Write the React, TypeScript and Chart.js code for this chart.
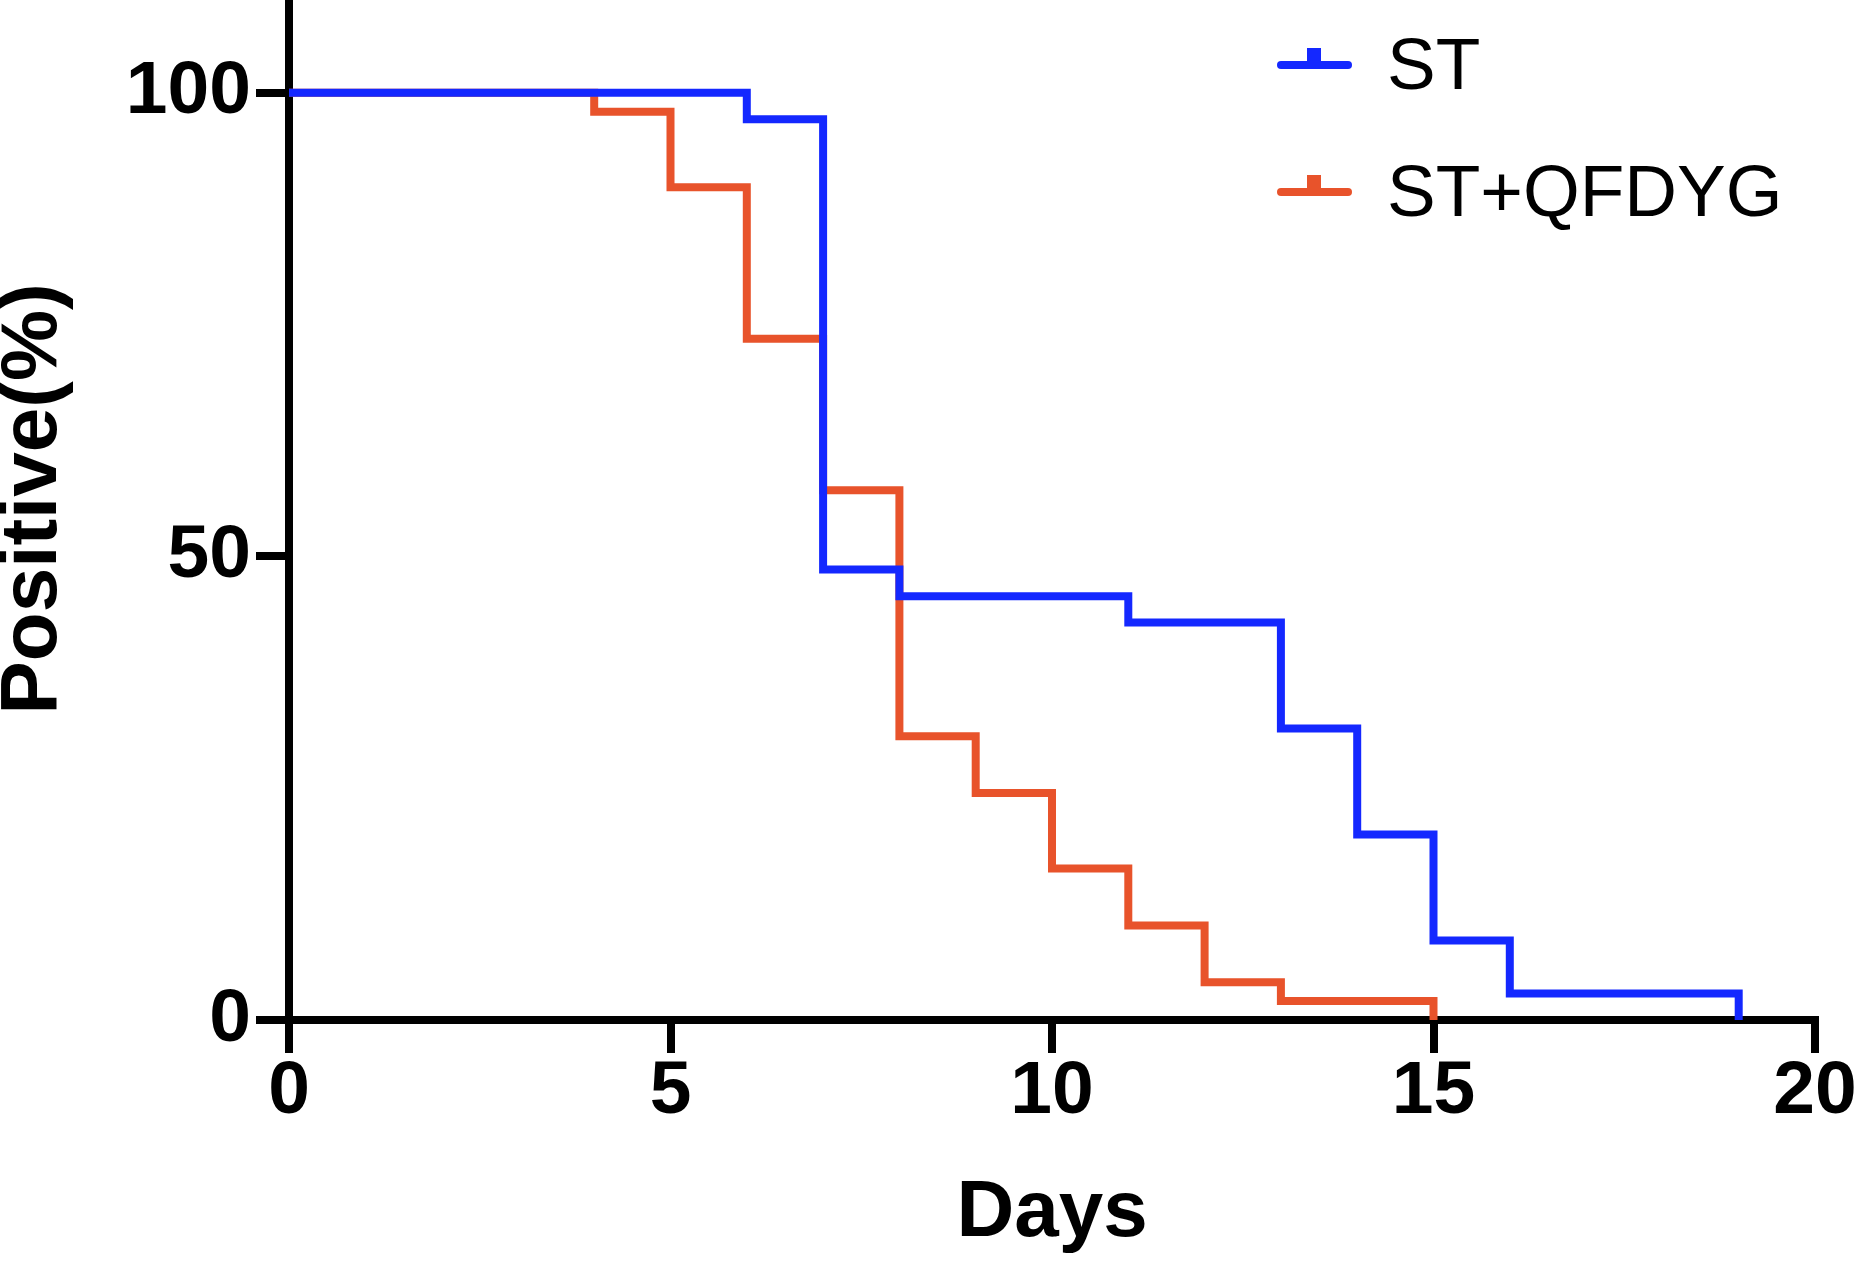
import React, { useEffect, useRef } from "react";
import { Chart, registerables } from "chart.js";

Chart.register(...registerables);

// days at which a step happens, and the % still positive from that day on
const stDays = [0, 6, 7, 8, 11, 13, 14, 15, 16, 19];
const stValues = [100, 97.14, 48.57, 45.71, 42.86, 31.43, 20.0, 8.57, 2.86, 0];
const qfdygDays = [0, 4, 5, 6, 7, 8, 9, 10, 11, 12, 13, 15];
const qfdygValues = [100, 97.96, 89.8, 73.47, 57.14, 30.61, 24.49, 16.33, 10.2, 4.08, 2.04, 0];

const seriesNames = ["ST", "ST+QFDYG"];
const seriesColors = ["#1428ff", "#e8532b"];

const xTicks = [0, 5, 10, 15, 20];
const yTicks = [0, 50, 100];

const SANS = "'Liberation Sans', Arial, sans-serif";
const TICK_FONT = { family: SANS, size: 75, weight: "bold" as const, lineHeight: 1 };

// legend drawn by hand: a line with a little censor tick, then the label
const legendPlugin = {
  id: "stepLegend",
  afterDraw(chart: Chart) {
    const { ctx } = chart;
    ctx.save();
    chart.data.datasets.forEach((ds, i) => {
      const y = 65 + i * 127;
      ctx.strokeStyle = ds.borderColor as string;
      ctx.fillStyle = ds.borderColor as string;
      ctx.lineWidth = 8;
      ctx.lineCap = "round";
      ctx.beginPath();
      ctx.moveTo(1281, y);
      ctx.lineTo(1348, y);
      ctx.stroke();
      ctx.fillRect(1307, y - 17, 14, 17);
      ctx.fillStyle = "#000";
      ctx.font = `73px ${SANS}`;
      ctx.textBaseline = "alphabetic";
      ctx.textAlign = "left";
      ctx.fillText(ds.label as string, 1387, y + 24);
    });
    ctx.restore();
  },
};

const axisGrid = {
  drawOnChartArea: false,
  drawTicks: true,
  tickLength: 33,
  lineWidth: 8,
  tickWidth: 8,
  color: "#000",
  tickColor: "#000",
};

const App: React.FC = () => {
  const canvas = useRef<HTMLCanvasElement>(null);

  useEffect(() => {
    const chart = new Chart(canvas.current!.getContext("2d")!, {
      type: "line",
      data: {
        datasets: [
          {
            label: seriesNames[0],
            data: stDays.map((d, i) => ({ x: d, y: stValues[i] })),
            borderColor: seriesColors[0],
            borderWidth: 8,
            stepped: "before",
            borderCapStyle: "round",
            pointRadius: 0,
          },
          {
            label: seriesNames[1],
            data: qfdygDays.map((d, i) => ({ x: d, y: qfdygValues[i] })),
            borderColor: seriesColors[1],
            borderWidth: 8,
            stepped: "before",
            borderCapStyle: "round",
            pointRadius: 0,
          },
        ],
      },
      options: {
        responsive: false,
        animation: false,
        devicePixelRatio: 1,
        layout: { padding: { top: 0, right: 45, bottom: 0, left: 0 } },
        plugins: {
          legend: { display: false },
          tooltip: { enabled: false },
        },
        scales: {
          x: {
            type: "linear",
            min: 0,
            max: 20,
            afterBuildTicks: s => {
              s.ticks = xTicks.map(v => ({ value: v }));
            },
            afterFit: (s: any) => {
              s.height = 243;
              s.paddingLeft = 0;
              s.paddingRight = 0;
            },
            grid: axisGrid,
            border: { color: "#000", width: 8 },
            ticks: { color: "#000", padding: 2, maxRotation: 0, font: TICK_FONT },
            title: {
              display: true,
              text: "Days",
              color: "#000",
              font: { family: SANS, size: 80, weight: "bold", lineHeight: 1 },
              padding: { top: 0, bottom: 9 },
            },
          },
          y: {
            type: "linear",
            min: 0,
            max: 110,
            afterBuildTicks: s => {
              s.ticks = yTicks.map(v => ({ value: v }));
            },
            afterFit: (s: any) => {
              s.width = 289;
              s.paddingTop = 0;
              s.paddingBottom = 0;
            },
            grid: axisGrid,
            border: { color: "#000", width: 8 },
            ticks: { color: "#000", padding: 5, font: TICK_FONT },
            title: {
              display: true,
              text: " Positive(%)",
              color: "#000",
              font: { family: SANS, size: 80, weight: "bold", lineHeight: 0.8 },
              padding: { top: 2, bottom: 0 },
            },
          },
        },
      },
      plugins: [legendPlugin],
    });

    return () => {
      chart.destroy();
    };
  }, []);

  return (
    <div style={{ position: "fixed", left: 0, top: 0, width: 1860, height: 1263, background: "#fff" }}>
      <canvas ref={canvas} width={1860} height={1263} style={{ width: 1860, height: 1263 }}></canvas>
    </div>
  );
};

export default App;
